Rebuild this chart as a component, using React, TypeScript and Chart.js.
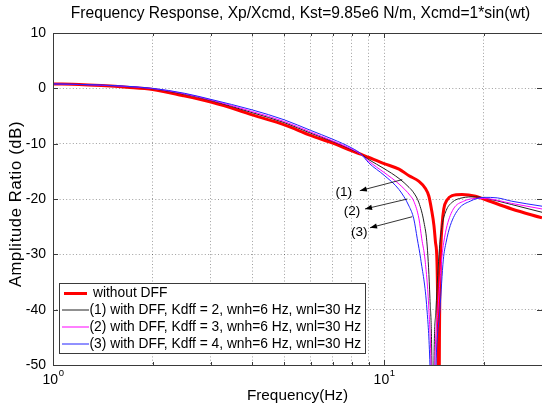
import React, { useEffect, useRef } from 'react';
import { Chart, registerables } from 'chart.js';

Chart.register(...registerables);

const FONT = '"Liberation Sans", Arial, Helvetica, sans-serif';

const chartTitle = 'Frequency Response, Xp/Xcmd, Kst=9.85e6 N/m, Xcmd=1*sin(wt)';
const xAxisTitle = 'Frequency(Hz)';
const yAxisTitle = 'Amplitude Ratio (dB)';

const seriesNames = [
  'without DFF',
  '(1) with DFF, Kdff = 2, wnh=6 Hz, wnl=30 Hz',
  '(2) with DFF, Kdff = 3, wnh=6 Hz, wnl=30 Hz',
  '(3) with DFF, Kdff = 4, wnh=6 Hz, wnl=30 Hz',
];
const seriesColors = ['#ff0000', '#222222', '#ff00ff', '#2222ff'];
const seriesWidths = [3, 1, 1, 1];

// without DFF
const freqNoDff = [1.0, 1.2, 1.4, 1.67, 2.0, 2.46, 3.0, 3.65, 4.0, 5.0, 6.0, 7.0, 8.0, 8.5, 9.0, 10.0, 11.1, 11.9, 12.75, 13.3, 13.66, 13.9, 14.15, 14.3, 14.45, 14.55, 14.62, 14.7, 14.8, 14.97, 15.15, 15.5, 16.05, 17.2, 18.9, 20.0, 24.3, 30.0];
const dbNoDff = [0.8, 0.7, 0.5, 0.2, -0.2, -1.3, -2.5, -4.0, -4.8, -6.6, -8.5, -9.9, -11.3, -11.9, -12.5, -13.6, -14.6, -15.8, -16.8, -18.0, -19.5, -21.8, -24.8, -27.8, -31.4, -45, -75, -45, -31.4, -24.8, -21.8, -20.2, -19.4, -19.2, -19.5, -20.0, -21.8, -23.4];

// (1) Kdff = 2
const freqK2 = [1.0, 1.4, 2.0, 2.5, 3.0, 4.0, 5.0, 6.0, 7.0, 8.0, 8.5, 9.0, 10.0, 11.1, 11.9, 12.3, 12.75, 13.2, 13.5, 13.76, 13.95, 14.05, 14.15, 14.35, 14.7, 14.97, 15.4, 16.05, 17.2, 18.9, 20.0, 24.3, 30.0];
const dbK2 = [0.8, 0.55, -0.1, -1.1, -2.2, -4.4, -6.2, -8.1, -9.6, -11.1, -11.9, -12.9, -14.5, -16.3, -17.9, -18.9, -20.7, -24.2, -28.5, -38, -50, -75, -50, -40, -29, -24.8, -22.1, -20.6, -19.8, -19.6, -19.8, -21.0, -22.4];

// (2) Kdff = 3
const freqK3 = [1.0, 1.4, 2.0, 2.5, 3.0, 4.0, 5.0, 6.0, 7.0, 8.0, 8.5, 9.0, 10.0, 11.1, 12.0, 12.3, 12.75, 13.0, 13.3, 13.66, 13.86, 14.05, 14.24, 14.55, 14.95, 15.15, 15.5, 16.2, 17.4, 18.9, 20.0, 24.3, 30.0];
const dbK3 = [0.8, 0.55, -0.05, -1.0, -2.1, -4.2, -6.0, -7.9, -9.5, -11.0, -11.9, -13.2, -15.2, -17.3, -19.4, -20.4, -23.6, -27.2, -31.0, -40, -50, -75, -50, -40, -30.5, -27.8, -24.8, -21.8, -20.4, -19.9, -19.9, -20.8, -21.8];

// (3) Kdff = 4
const freqK4 = [1.0, 1.4, 2.0, 2.5, 3.0, 4.0, 5.0, 6.0, 7.0, 8.0, 8.5, 9.0, 10.0, 11.1, 11.9, 12.3, 12.6, 12.9, 13.48, 13.76, 14.05, 14.35, 14.75, 15.1, 15.4, 15.85, 16.8, 18.2, 20.0, 22.0, 24.3, 30.0];
const dbK4 = [0.8, 0.6, 0.0, -0.9, -2.0, -3.9, -5.7, -7.6, -9.2, -10.8, -11.8, -13.5, -15.7, -18.3, -21.3, -23.6, -27.2, -30.8, -40, -50, -75, -50, -40, -31, -27.8, -24.8, -21.8, -20.4, -19.7, -19.8, -20.4, -21.3];

const xTickValues = [1, 2, 3, 4, 5, 6, 7, 8, 9, 10, 20, 30];
const xMajorTickValues = [1, 10];
const xMajorTickExponents = ['0', '1'];
const yMin = -50;
const yMax = 10;
const yStep = 10;
const xMin = 1;
const xMax = 30;

// annotation arrows (data coordinates)
const arrowLabels = ['(1)', '(2)', '(3)'];
const arrowTailFreq = [11.35, 11.76, 12.17];
const arrowTailDb = [-16.5, -20.0, -23.2];
const arrowHeadFreq = [8.45, 8.76, 9.07];
const arrowHeadDb = [-18.5, -21.8, -25.2];
const arrowLabelFreq = [7.56, 8.0, 8.41];
const arrowLabelDb = [-18.7, -22.2, -26.0];

const AXIS_COLOR = '#3a3a3a';

const decorPlugin = {
  id: 'decor',
  afterDatasetsDraw(chart: any) {
    const { ctx, chartArea: a, scales } = chart;
    const xs = scales.x;
    const ys = scales.y;
    ctx.save();
    ctx.setLineDash([]);

    // arrows
    ctx.strokeStyle = '#000';
    ctx.fillStyle = '#000';
    ctx.lineWidth = 0.8;
    for (let i = 0; i < arrowLabels.length; i++) {
      const x1 = xs.getPixelForValue(arrowTailFreq[i]);
      const y1 = ys.getPixelForValue(arrowTailDb[i]);
      const x2 = xs.getPixelForValue(arrowHeadFreq[i]);
      const y2 = ys.getPixelForValue(arrowHeadDb[i]);
      ctx.beginPath();
      ctx.moveTo(x1, y1);
      ctx.lineTo(x2, y2);
      ctx.stroke();
      const ang = Math.atan2(y2 - y1, x2 - x1);
      const len = 7;
      const hw = 2.6;
      ctx.beginPath();
      ctx.moveTo(x2, y2);
      ctx.lineTo(x2 - len * Math.cos(ang) + hw * Math.sin(ang), y2 - len * Math.sin(ang) - hw * Math.cos(ang));
      ctx.lineTo(x2 - len * Math.cos(ang) - hw * Math.sin(ang), y2 - len * Math.sin(ang) + hw * Math.cos(ang));
      ctx.closePath();
      ctx.fill();
      ctx.font = `13.5px ${FONT}`;
      ctx.textAlign = 'center';
      ctx.textBaseline = 'middle';
      ctx.fillText(arrowLabels[i], xs.getPixelForValue(arrowLabelFreq[i]), ys.getPixelForValue(arrowLabelDb[i]));
    }

    // axes box
    ctx.strokeStyle = AXIS_COLOR;
    ctx.lineWidth = 1;
    ctx.beginPath();
    ctx.moveTo(a.right, a.top + 0.5);
    ctx.lineTo(a.left + 0.5, a.top + 0.5);
    ctx.lineTo(a.left + 0.5, a.bottom + 0.5);
    ctx.lineTo(a.right, a.bottom + 0.5);
    ctx.stroke();

    // inward ticks
    ctx.beginPath();
    for (let v = yMin; v <= yMax; v += yStep) {
      const py = Math.round(ys.getPixelForValue(v)) + 0.5;
      ctx.moveTo(a.left, py);
      ctx.lineTo(a.left + 5, py);
      ctx.moveTo(a.right - 5, py);
      ctx.lineTo(a.right, py);
    }
    for (const v of xTickValues) {
      const px = Math.round(xs.getPixelForValue(v)) + 0.5;
      const tl = xMajorTickValues.includes(v) ? 5 : 3;
      ctx.moveTo(px, a.bottom);
      ctx.lineTo(px, a.bottom - tl);
      ctx.moveTo(px, a.top);
      ctx.lineTo(px, a.top + tl);
    }
    ctx.stroke();

    // x major tick labels 10^n
    ctx.fillStyle = '#000';
    ctx.textBaseline = 'alphabetic';
    ctx.textAlign = 'left';
    for (let i = 0; i < xMajorTickValues.length; i++) {
      const px = xs.getPixelForValue(xMajorTickValues[i]);
      ctx.font = `14px ${FONT}`;
      const wb = ctx.measureText('10').width;
      ctx.font = `9.5px ${FONT}`;
      const we = ctx.measureText(xMajorTickExponents[i]).width;
      const x0 = px - (wb + we) / 2;
      ctx.font = `14px ${FONT}`;
      ctx.fillText('10', x0, 384);
      ctx.font = `9.5px ${FONT}`;
      ctx.fillText(xMajorTickExponents[i], x0 + wb + 0.5, 376);
    }

    // titles
    ctx.font = `15.6px ${FONT}`;
    ctx.textAlign = 'center';
    ctx.fillText(chartTitle, 300.5, 18);
    ctx.font = `15.3px ${FONT}`;
    ctx.fillText(xAxisTitle, 297.5, 400);
    ctx.save();
    ctx.translate(21, 204);
    ctx.rotate(-Math.PI / 2);
    ctx.font = `16.5px ${FONT}`;
    try { (ctx as any).letterSpacing = '0.7px'; } catch (e) {}
    ctx.fillText(yAxisTitle, 0, 0);
    ctx.restore();

    // legend
    const lx = 59.5, ly = 283.5, lw = 306, lh = 70;
    ctx.fillStyle = '#fff';
    ctx.fillRect(lx, ly, lw, lh);
    ctx.strokeStyle = AXIS_COLOR;
    ctx.lineWidth = 1;
    ctx.strokeRect(lx, ly, lw, lh);
    ctx.font = `13.8px ${FONT}`;
    ctx.textAlign = 'left';
    ctx.textBaseline = 'middle';
    for (let i = 0; i < seriesNames.length; i++) {
      const ry = 293 + 17 * i;
      ctx.strokeStyle = seriesColors[i];
      ctx.lineWidth = seriesWidths[i];
      ctx.beginPath();
      if (i === 0) {
        ctx.moveTo(64, ry + 0.5);
        ctx.lineTo(87, ry + 0.5);
      } else {
        ctx.moveTo(62, ry);
        ctx.lineTo(89, ry);
      }
      ctx.stroke();
      ctx.fillStyle = '#000';
      ctx.fillText(seriesNames[i], i === 0 ? 93 : 89.5, ry + 0.5);
    }
    ctx.restore();
  },
};

export default function App() {
  const ref = useRef<HTMLCanvasElement>(null);
  useEffect(() => {
    document.body.style.margin = '0';
    const canvas = ref.current;
    if (!canvas) return;
    const freqs = [freqNoDff, freqK2, freqK3, freqK4];
    const dbs = [dbNoDff, dbK2, dbK3, dbK4];
    const orders = [4, 3, 2, 1];
    const datasets = seriesNames.map((name, i) => ({
      label: name,
      data: freqs[i].map((f, j) => ({ x: f, y: dbs[i][j] })),
      borderColor: seriesColors[i],
      backgroundColor: seriesColors[i],
      borderWidth: seriesWidths[i],
      pointRadius: 0,
      fill: false,
      cubicInterpolationMode: 'monotone' as const,
      clip: 0,
      order: orders[i],
    }));
    const gridColor = 'rgba(0,0,0,0.38)';
    const chart = new Chart(canvas, {
      type: 'line',
      data: { datasets },
      options: {
        animation: false,
        responsive: false,
        devicePixelRatio: 1,
        layout: { padding: { top: 33, left: 0, right: 0, bottom: 0 } },
        plugins: {
          legend: { display: false },
          tooltip: { enabled: false },
          title: { display: false },
        },
        scales: {
          x: {
            type: 'logarithmic',
            min: xMin,
            max: xMax,
            afterBuildTicks: (s: any) => {
              s.ticks = xTickValues.map((v) => ({ value: v }));
            },
            afterFit: (s: any) => {
              s.height = 44;
            },
            ticks: { display: false, callback: () => '' },
            grid: { color: gridColor, lineWidth: 1, drawTicks: false },
            border: { display: false, dash: [1, 2.3] },
          },
          y: {
            type: 'linear',
            min: yMin,
            max: yMax,
            afterFit: (s: any) => {
              s.width = 53;
            },
            ticks: {
              stepSize: yStep,
              color: '#000',
              font: { family: FONT, size: 14 },
              padding: 7,
            },
            grid: { color: gridColor, lineWidth: 1, drawTicks: false },
            border: { display: false, dash: [1, 2.3] },
          },
        },
      },
      plugins: [decorPlugin],
    } as any);
    return () => chart.destroy();
  }, []);
  return (
    <div style={{ width: 542, height: 409 }}>
      <canvas ref={ref} width={542} height={409} style={{ display: 'block' }} />
    </div>
  );
}
